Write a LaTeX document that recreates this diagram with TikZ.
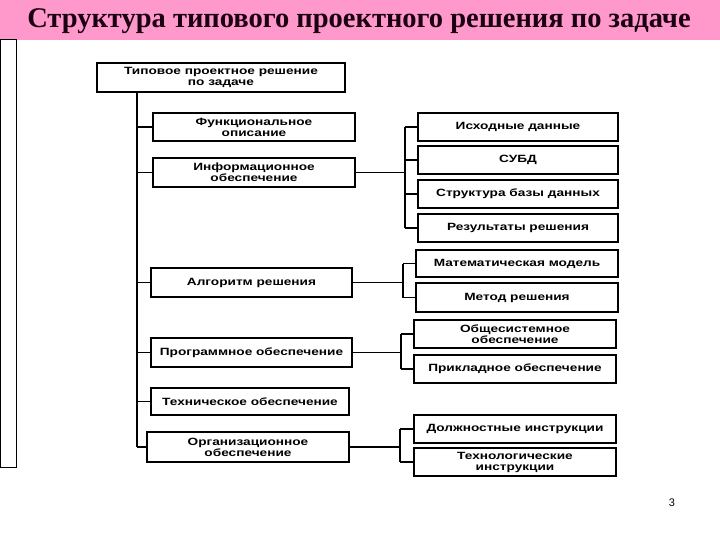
\documentclass[tikz,border=0pt]{standalone}
\usepackage{fontspec}
\setmainfont{Liberation Serif}
\setsansfont{Liberation Sans}
\newfontfamily\boxfont[FakeStretch=1.3]{Liberation Sans}
\usetikzlibrary{positioning}
\definecolor{titlepink}{RGB}{255,153,204}
\definecolor{titleink}{RGB}{26,0,16}
\tikzset{
  blk/.style={draw, line width=1.6pt, inner sep=0pt, align=center,
    font=\fontsize{10.5}{11}\boxfont\bfseries},
  lnk/.style={line width=1.3pt}
}
\begin{document}
\begin{tikzpicture}[x=1pt, y=-1pt]
\useasboundingbox (0,0) rectangle (720,540);
\fill[white] (0,0) rectangle (720,540);
\fill[titlepink] (0,0) rectangle (720,40);
\node[font=\fontsize{28.5}{30}\selectfont\bfseries, text=titleink] (title) at (359,21) {Структура типового проектного решения по задаче};
\draw[line width=1pt] (0.5,40) rectangle (16,467);
\node[blk, minimum width=248, minimum height=29] (root) at (221,77.5) {Типовое проектное решение\\по задаче};
\node[blk, minimum width=202, minimum height=28] (func) at (254,127) {Функциональное\\описание};
\node[blk, minimum width=202, minimum height=29] (info) at (254,172.5) {Информационное\\обеспечение};
\node[blk, minimum width=201, minimum height=29] (alg) at (251.5,282.5) {Алгоритм решения};
\node[blk, minimum width=201, minimum height=29] (prog) at (251.5,352.5) {Программное обеспечение};
\node[blk, minimum width=198, minimum height=27] (tech) at (250,401.5) {Техническое обеспечение};
\node[blk, minimum width=202, minimum height=30] (org) at (248,447) {Организационное\\обеспечение};
\node[blk, minimum width=200, minimum height=28] (src) at (518,127) {Исходные данные};
\node[blk, minimum width=200, minimum height=28] (dbms) at (518,160) {СУБД};
\node[blk, minimum width=200, minimum height=28] (dbs) at (518,194) {Структура базы данных};
\node[blk, minimum width=200, minimum height=28] (res) at (518,228) {Результаты решения};
\node[blk, minimum width=202, minimum height=27] (mat) at (517,263.5) {Математическая модель};
\node[blk, minimum width=202, minimum height=29] (meth) at (517,297.5) {Метод решения};
\node[blk, minimum width=202, minimum height=28] (sys) at (515,334) {Общесистемное\\обеспечение};
\node[blk, minimum width=202, minimum height=28] (app) at (515,369) {Прикладное обеспечение};
\node[blk, minimum width=202, minimum height=28] (job) at (515,429) {Должностные инструкции};
\node[blk, minimum width=202, minimum height=28] (tchn) at (515,462) {Технологические\\инструкции};
\node[font=\fontsize{11}{12}\sffamily] (page) at (672,503) {3};
\coordinate (trunk) at (137,0);
\coordinate (b1) at (405,0);
\coordinate (b2) at (403,0);
\coordinate (b3) at (401,0);
\coordinate (b4) at (400,0);
\draw[line width=1.8pt] (root.south -| trunk) -- (org.west -| trunk);
\foreach \n in {func,info,alg,prog,tech,org}
  \draw[lnk] (\n.west -| trunk) -- (\n.west);
\draw[lnk] (info.east) -- (info.east -| b1);
\draw[lnk] (src.west -| b1) -- (res.west -| b1);
\foreach \n in {src,dbms,dbs,res}
  \draw[lnk] (\n.west -| b1) -- (\n.west);
\draw[lnk] (alg.east) -- (alg.east -| b2);
\draw[lnk] (mat.west -| b2) -- (meth.west -| b2);
\foreach \n in {mat,meth}
  \draw[lnk] (\n.west -| b2) -- (\n.west);
\draw[lnk] (prog.east) -- (prog.east -| b3);
\draw[lnk] (sys.west -| b3) -- (app.west -| b3);
\foreach \n in {sys,app}
  \draw[lnk] (\n.west -| b3) -- (\n.west);
\draw[lnk] (org.east) -- (org.east -| b4);
\draw[lnk] (job.west -| b4) -- (tchn.west -| b4);
\foreach \n in {job,tchn}
  \draw[lnk] (\n.west -| b4) -- (\n.west);
\end{tikzpicture}
\end{document}
